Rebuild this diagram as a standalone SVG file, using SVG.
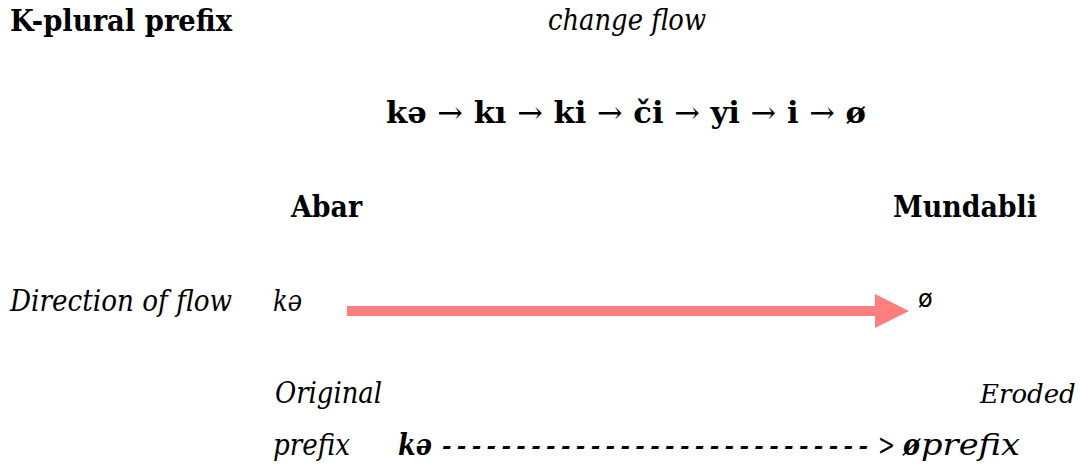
<svg xmlns="http://www.w3.org/2000/svg" width="1080" height="468" viewBox="0 0 1080 468">
  <defs>
    <style>
      text { font-family: "DejaVu Serif", "Liberation Serif", serif; fill: #000; }
      .b { font-weight: bold; font-size: 30px; }
      .i { font-style: italic; font-size: 30px; }
      .bi { font-weight: bold; font-style: italic; font-size: 30px; }
      .dash { font-weight: bold; font-style: italic; font-size: 23px; }
      .arr { font-weight: normal; }
      .sym { font-family: "DejaVu Sans", sans-serif; font-size: 24px; }
    </style>
    <marker id="head" markerUnits="userSpaceOnUse" markerWidth="34" markerHeight="34" viewBox="0 0 34 34" refX="0" refY="17" orient="auto">
      <path d="M0,0 L34,17 L0,34 Z" fill="#FF7F7F"/>
    </marker>
  </defs>
  <rect width="1080" height="468" fill="#fff"/>

  <g id="title"><text class="b" x="10" y="31" textLength="222" lengthAdjust="spacingAndGlyphs">K-plural prefix</text></g>
  <g id="change-flow-label"><text class="i" x="548" y="30" textLength="158" lengthAdjust="spacingAndGlyphs">change flow</text></g>
  <g id="sequence"><text class="b" x="386" y="123" textLength="480" lengthAdjust="spacingAndGlyphs">kə <tspan class="arr">→</tspan> kı <tspan class="arr">→</tspan> ki <tspan class="arr">→</tspan> či <tspan class="arr">→</tspan> yi <tspan class="arr">→</tspan> i <tspan class="arr">→</tspan> ø</text></g>
  <g id="abar"><text class="b" x="291" y="217" textLength="71" lengthAdjust="spacingAndGlyphs">Abar</text></g>
  <g id="mundabli"><text class="b" x="893" y="217" textLength="144" lengthAdjust="spacingAndGlyphs">Mundabli</text></g>
  <g id="direction-label"><text class="i" x="10" y="311" textLength="222" lengthAdjust="spacingAndGlyphs">Direction of flow</text></g>
  <g id="start-ka"><text class="i" x="273" y="311" textLength="29" lengthAdjust="spacingAndGlyphs">kə</text></g>
  <g id="end-null"><text class="sym" x="918" y="307">ø</text></g>

  <g id="connectors">
    <line x1="347" y1="311" x2="875" y2="311" stroke="#FF7F7F" stroke-width="10" marker-end="url(#head)"/>
  </g>

  <g id="original-label">
    <text class="i" x="275" y="403" textLength="107" lengthAdjust="spacingAndGlyphs">Original</text>
    <text class="i" x="273" y="455" textLength="77" lengthAdjust="spacingAndGlyphs">prefix</text>
  </g>
  <g id="eroded-label">
    <text class="i" x="980" y="403" style="font-size:26px">Eroded</text>
  </g>
  <g id="dashed-line">
    <text class="bi" x="398" y="455" textLength="34" lengthAdjust="spacingAndGlyphs">kə</text>
    <text class="dash" x="442" y="454" textLength="426" lengthAdjust="spacing">- - - - - - - - - - - - - - - - - - - - - - - - - - - - -</text>
    <text class="i" x="878" y="455" textLength="17" lengthAdjust="spacingAndGlyphs">&gt;</text>
    <text class="bi" x="903" y="455" textLength="17" lengthAdjust="spacingAndGlyphs">ø</text>
    <text class="i" x="921" y="455" textLength="99" lengthAdjust="spacingAndGlyphs">prefix</text>
  </g>
</svg>
